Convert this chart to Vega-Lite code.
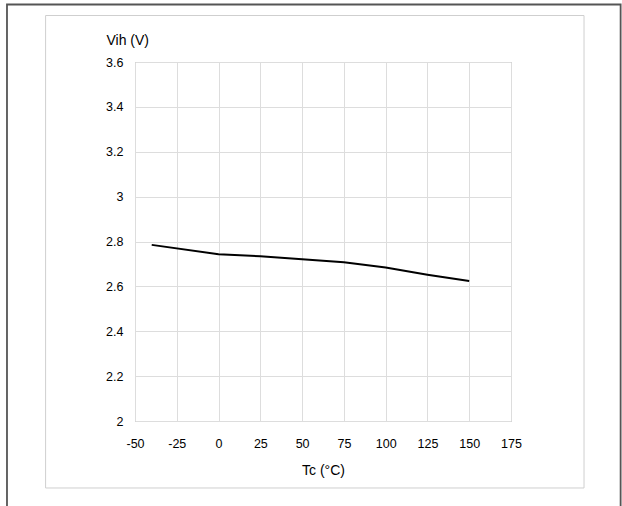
{
  "$schema": "https://vega.github.io/schema/vega-lite/v6.json",
  "width": 376,
  "height": 359,
  "autosize": {"type": "none"},
  "padding": {"left": 135, "top": 62, "right": 111, "bottom": 85},
  "background": "#ffffff",
  "config": {
    "font": "Liberation Sans",
    "view": {"stroke": "#a8a8a8", "strokeWidth": 1}
  },
  "layer": [
    {
      "data": {"values": [{}]},
      "mark": {"type": "rect", "fill": null, "stroke": "#cfcfcf", "strokeWidth": 1, "clip": false},
      "encoding": {
        "x": {"datum": -103.5, "type": "quantitative", "scale": {"domain": [-50, 175], "nice": false, "zero": false}},
        "x2": {"datum": 218.7},
        "y": {"datum": 3.8072, "type": "quantitative", "scale": {"domain": [2, 3.6], "nice": false, "zero": false}},
        "y2": {"datum": 1.7014}
      }
    },
    {
      "data": {"values": [{}]},
      "mark": {"type": "rect", "fill": null, "stroke": "#555555", "strokeWidth": 1.8, "clip": false},
      "encoding": {
        "x": {"datum": -126.6, "type": "quantitative"},
        "x2": {"datum": 240.6},
        "y": {"datum": 3.8563, "type": "quantitative"},
        "y2": {"datum": 1.5}
      }
    },
    {
      "data": {
        "values": [
          {"Tc": -40, "Vih": 2.785},
          {"Tc": 0, "Vih": 2.743},
          {"Tc": 25, "Vih": 2.734},
          {"Tc": 50, "Vih": 2.721},
          {"Tc": 75, "Vih": 2.707},
          {"Tc": 100, "Vih": 2.684},
          {"Tc": 125, "Vih": 2.652},
          {"Tc": 150, "Vih": 2.624}
        ]
      },
      "mark": {"type": "line", "color": "#000000", "strokeWidth": 2},
      "encoding": {
        "x": {
          "field": "Tc",
          "type": "quantitative",
          "scale": {"domain": [-50, 175], "nice": false, "zero": false},
          "axis": {
            "title": "Tc (°C)",
            "values": [-50, -25, 0, 25, 50, 75, 100, 125, 150, 175],
            "labelExpr": "datum.value",
            "labelFlush": false,
            "labelOverlap": false,
            "domain": false,
            "ticks": false,
            "grid": true,
            "gridColor": "#dddddd",
            "gridWidth": 1,
            "labelFontSize": 12.5,
            "labelColor": "#000000",
            "labelPadding": 16,
            "labelFont": "Liberation Sans",
            "titleFont": "Liberation Sans",
            "titleFontWeight": "normal",
            "titleFontSize": 14,
            "titleColor": "#000000",
            "titlePadding": 14
          }
        },
        "y": {
          "field": "Vih",
          "type": "quantitative",
          "scale": {"domain": [2, 3.6], "nice": false, "zero": false},
          "axis": {
            "title": "Vih (V)",
            "values": [2, 2.2, 2.4, 2.6, 2.8, 3, 3.2, 3.4, 3.6],
            "labelExpr": "datum.value == 2 || datum.value == 3 ? format(datum.value, 'd') : format(datum.value, '.1f')",
            "labelFlush": false,
            "labelOverlap": false,
            "domain": false,
            "ticks": false,
            "grid": true,
            "gridColor": "#dddddd",
            "gridWidth": 1,
            "labelFontSize": 12.5,
            "labelColor": "#000000",
            "labelPadding": 12,
            "labelFont": "Liberation Sans",
            "titleFont": "Liberation Sans",
            "titleFontWeight": "normal",
            "titleFontSize": 14,
            "titleColor": "#000000",
            "titleAngle": 0,
            "titleAlign": "left",
            "titleBaseline": "middle",
            "titleX": -29,
            "titleY": -22
          }
        }
      }
    }
  ]
}
